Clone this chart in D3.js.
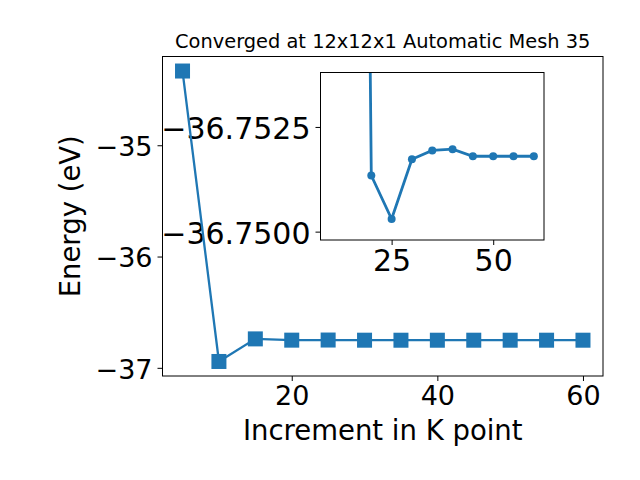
<!DOCTYPE html>
<html>
<head>
<meta charset="utf-8">
<script src="https://cdn.jsdelivr.net/npm/d3@7"></script>
<style>
  body { margin: 0; background: #fff; }
  svg { display: block; font-family: "DejaVu Sans", sans-serif; }
</style>
</head>
<body>
<svg id="chart" width="640" height="480"></svg>
<script>
//K point increments and total energy (eV)
let kPoints = [5, 10, 15, 20, 25, 30, 35, 40, 45, 50, 55, 60];
let energy = [-34.333, -36.943, -36.740, -36.75134, -36.75030, -36.75173, -36.75194, -36.75197, -36.75180, -36.75180, -36.75180, -36.75180];

//Inset (zoom on the converged part)
let insetK = [10, 15, 20, 25, 30, 35, 40, 45, 50, 55, 60];
let insetEnergy = [-36.943, -36.80, -36.75134, -36.75030, -36.75173, -36.75194, -36.75197, -36.75180, -36.75180, -36.75180, -36.75180];

let titleText = "Converged at 12x12x1 Automatic Mesh 35";
let xLabel = "Increment in K point";
let yLabel = "Energy (eV)";
let mainXTicks = [20, 40, 60];
let mainYTicks = [-35, -36, -37];
let insetXTicks = [25, 50];
let insetYTicks = [-36.7525, -36.7500];

let blue = "#1f77b4";
let svg = d3.select("#chart");
let minus = s => s.replace("-", "\u2212");

//Main axes box
let mLeft = 162.5, mRight = 603, mTop = 56.5, mBottom = 376;

let pad = (ext, f) => [ext[0] - (ext[1] - ext[0]) * f, ext[1] + (ext[1] - ext[0]) * f];
let x = d3.scaleLinear().domain(pad(d3.extent(kPoints), 0.05)).range([mLeft, mRight]);
let y = d3.scaleLinear().domain(pad(d3.extent(energy), 0.05)).range([mBottom, mTop]);

//Title
svg.append("text")
    .attr("x", (mLeft + mRight) / 2).attr("y", 48)
    .attr("text-anchor", "middle")
    .attr("font-size", "19.4px")
    .text(titleText);

//Axes with matplotlib like ticks
let xAxis = svg.append("g")
    .attr("transform", "translate(0," + mBottom + ")")
    .call(d3.axisBottom(x).tickValues(mainXTicks).tickSize(5).tickPadding(5).tickFormat(d3.format("d")));
let yAxis = svg.append("g")
    .attr("transform", "translate(" + mLeft + ",0)")
    .call(d3.axisLeft(y).tickValues(mainYTicks).tickSize(5).tickPadding(5).tickFormat(d => minus(d3.format("d")(d))));
[xAxis, yAxis].forEach(g => {
    g.select(".domain").remove();
    g.selectAll("line").attr("stroke", "#000").attr("stroke-width", 1);
    g.selectAll("text").attr("font-size", "27px").attr("fill", "#000").attr("font-family", "DejaVu Sans");
});
yAxis.selectAll("text").attr("dy", "0.38em");

svg.append("rect")
    .attr("x", mLeft).attr("y", mTop)
    .attr("width", mRight - mLeft).attr("height", mBottom - mTop)
    .attr("fill", "none").attr("stroke", "#000").attr("stroke-width", 1);

//Axis labels
svg.append("text")
    .attr("x", (mLeft + mRight) / 2).attr("y", 440)
    .attr("text-anchor", "middle")
    .attr("font-size", "27.5px")
    .text(xLabel);
svg.append("text")
    .attr("transform", "translate(80," + (mTop + mBottom) / 2 + ") rotate(-90)")
    .attr("text-anchor", "middle")
    .attr("font-size", "27.5px")
    .text(yLabel);

//Inset axes
let iLeft = 320.5, iRight = 544, iTop = 72.5, iBottom = 240;
let ix = d3.scaleLinear().domain([7.5, 62.5]).range([iLeft, iRight]);
let iy = d3.scaleLinear().domain([-36.7498, -36.7538]).range([iBottom, iTop]);

svg.append("rect")
    .attr("x", iLeft).attr("y", iTop)
    .attr("width", iRight - iLeft).attr("height", iBottom - iTop)
    .attr("fill", "#fff");

svg.append("clipPath").attr("id", "insetClip")
    .append("rect")
    .attr("x", iLeft).attr("y", iTop)
    .attr("width", iRight - iLeft).attr("height", iBottom - iTop);

let inset = svg.append("g").attr("clip-path", "url(#insetClip)");
let iLine = d3.line().x((d, i) => ix(insetK[i])).y(d => iy(d));
inset.append("path")
    .datum(insetEnergy)
    .attr("fill", "none").attr("stroke", blue).attr("stroke-width", 2.8)
    .attr("d", iLine);
inset.selectAll("circle")
    .data(insetEnergy)
    .enter().append("circle")
    .attr("cx", (d, i) => ix(insetK[i]))
    .attr("cy", d => iy(d))
    .attr("r", 4)
    .attr("fill", blue);

let ixAxis = svg.append("g")
    .attr("transform", "translate(0," + iBottom + ")")
    .call(d3.axisBottom(ix).tickValues(insetXTicks).tickSize(5).tickPadding(5).tickFormat(d3.format("d")));
let iyAxis = svg.append("g")
    .attr("transform", "translate(" + iLeft + ",0)")
    .call(d3.axisLeft(iy).tickValues(insetYTicks).tickSize(5).tickPadding(5).tickFormat(d => minus(d3.format(".4f")(d))));
[ixAxis, iyAxis].forEach(g => {
    g.select(".domain").remove();
    g.selectAll("line").attr("stroke", "#000").attr("stroke-width", 1);
    g.selectAll("text").attr("font-size", "30px").attr("fill", "#000").attr("font-family", "DejaVu Sans");
});
iyAxis.selectAll("text").attr("dy", "0.4em");

svg.append("rect")
    .attr("x", iLeft).attr("y", iTop)
    .attr("width", iRight - iLeft).attr("height", iBottom - iTop)
    .attr("fill", "none").attr("stroke", "#000").attr("stroke-width", 1);

//Main line and square markers (drawn over the inset tick labels)
let line = d3.line().x((d, i) => x(kPoints[i])).y(d => y(d));
svg.append("path")
    .datum(energy)
    .attr("fill", "none").attr("stroke", blue).attr("stroke-width", 2.3)
    .attr("d", line);
svg.append("g")
    .selectAll("rect")
    .data(energy)
    .enter().append("rect")
    .attr("x", (d, i) => x(kPoints[i]) - 7.5)
    .attr("y", d => y(d) - 7.5)
    .attr("width", 15).attr("height", 15)
    .attr("fill", blue);
</script>
</body>
</html>
